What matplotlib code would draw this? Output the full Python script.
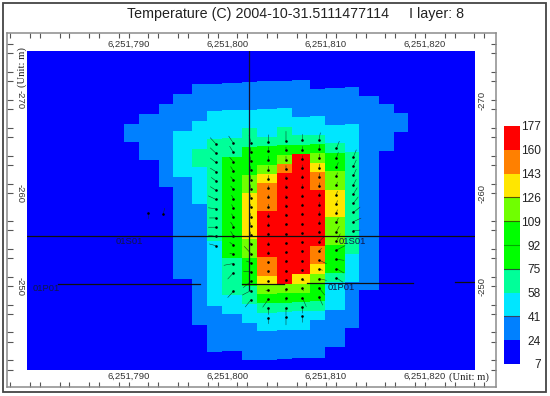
import numpy as np
import matplotlib
matplotlib.use("Agg")
import matplotlib.pyplot as plt
from matplotlib.colors import ListedColormap, BoundaryNorm
from matplotlib.patches import Rectangle
from matplotlib.ticker import FuncFormatter

plt.rcParams['font.family'] = ['Liberation Sans', 'DejaVu Sans']
plt.rcParams['axes.unicode_minus'] = False

W, H = 550, 396
TITLE = "Temperature (C) 2004-10-31.5111477114     I layer: 8"
X0 = 6251800
LEVELS = [7, 24, 41, 58, 75, 92, 109, 126, 143, 160, 177]
COLORS = ['#0000ff', '#0080ff', '#00e6ff', '#00ff99', '#00ff00', '#00ff00',
          '#70ff00', '#ffe600', '#ff8000', '#ff0000']
CLASS_TEMP = [15, 32, 49, 66, 83, 100, 117, 134, 151, 168]

# column edges, metres east of X0
col_edges = [-10.48, -8.96, -6.93, -5.51, -3.59, -2.07, -0.55, 1.48, 3.0, 5.03,
             6.55, 8.37, 9.89, 11.92, 13.33, 15.35, 16.88, 18.3]
row_edges = [-272.11 + 0.9947 * k for k in range(31)]
grid_tilt = -0.0425

# temperature class per cell, one string per column, top row first
COLUMNS = [
    "0"*4 + "1"*2 + "0"*24,
    "0"*3 + "1"*5 + "0"*22,
    "0"*2 + "1"*9 + "0"*19,
    "0"*1 + "1"*4 + "2"*5 + "1"*11 + "0"*9,
    "1"*4 + "2"*3 + "3"*2 + "2"*4 + "1"*13 + "0"*4,
    "1"*3 + "2"*3 + "3"*11 + "2"*7 + "1"*5 + "0"*1,
    "1"*3 + "2"*3 + "3"*2 + "4"*11 + "3"*4 + "2"*2 + "1"*4 + "0"*1,
    "1"*3 + "2"*2 + "3"*2 + "4"*3 + "6"*2 + "7"*5 + "6"*2 + "4"*3 + "3"*2 + "2"*2 + "1"*4,
    "1"*3 + "2"*3 + "3"*1 + "4"*2 + "6"*1 + "7"*1 + "8"*3 + "9"*5 + "8"*2 + "7"*1 + "6"*1 + "4"*1 + "3"*1 + "2"*2 + "1"*3,
    "1"*3 + "2"*2 + "3"*2 + "4"*1 + "6"*1 + "8"*1 + "9"*12 + "6"*1 + "4"*1 + "3"*1 + "2"*2 + "1"*3,
    "1"*4 + "2"*2 + "3"*1 + "4"*1 + "9"*13 + "7"*1 + "6"*1 + "4"*1 + "3"*1 + "2"*2 + "1"*3,
    "0"*1 + "1"*3 + "2"*2 + "3"*1 + "4"*1 + "6"*1 + "7"*1 + "8"*2 + "9"*6 + "8"*2 + "7"*1 + "6"*1 + "4"*2 + "3"*1 + "2"*1 + "1"*4,
    "0"*1 + "1"*4 + "2"*2 + "3"*1 + "4"*2 + "6"*2 + "7"*3 + "6"*3 + "4"*3 + "3"*1 + "2"*3 + "1"*4 + "0"*1,
    "0"*1 + "1"*4 + "2"*3 + "3"*11 + "2"*3 + "1"*5 + "0"*3,
    "0"*2 + "1"*21 + "0"*7,
    "0"*3 + "1"*5 + "0"*22,
    "0"*4 + "1"*2 + "0"*24,
]

# flow vectors (u, v) in metres, v positive downward: {column: (first row, vectors)}
FLOW = {
    5: (6, [(-.6,-.7),(-.6,-.6),(-.6,-.5),(-.6,-.4),(-.5,-.4),(-.6,-.4),(-.8,-.4),
            (-.8,-.1),(-.7,0),(-.8,0),(-.8,-.15),(-.7,-.2)]),
    6: (6, [(-.5,-.8),(-.4,-.7),(-.4,-.5),(-.3,-.5),(-.3,-.4),(-.3,-.4),(-.2,-.4),
            (-.2,-.4),(-.2,-.4),(-.3,-.5),(-.3,-.5),(-.4,-.3),(-.4,-.1),(-1,.2),
            (-.6,.7),(0,0),(-.6,.7)]),
    7: (6, [(-.2,-.8),(-.1,-.5),(-.1,-.5),(-.1,-.5),(-.1,-.5),(-.1,-.5),(-.1,-.4),
            (-.1,-.4),(-.1,-.4),(-.1,-.4),(-.1,-.4),(-.2,-.4),(-.7,-.8),(-.5,-.2),
            (-.8,-.1),(-.8,.7),(-.9,.5),(-.6,.8)]),
    8: (6, [(0,-.8),(0,-.5),(0,-.5),(0,-.4),(0,-.4),(0,-.3),(0,-.3),(0,-.3),(0,-.3),
            (0,-.3),(0,-.2),(0,-.2),(0,-.2),(0,.2),(0,.2),(0,.2),(-.3,.1),(-.6,.9),
            (0,.7),(0,.7)]),
    9: (6, [(0,-1.1),(0,-.4),(0,-.4),(0,-.4),(0,-.3),(0,-.3),(0,-.2),(0,-.2),(0,-.2),
            (0,.2),(0,.2),(0,.2),(0,.2),(0,.2),(0,.2),(0,.3),(0,.3),(0,.3),(0,.9),(0,.9)]),
    10: (6, [(0,-.7),(0,-.4),(0,-.4),(0,-.4),(0,-.3),(0,-.3),(0,-.2),(0,-.2),(0,-.2),
             (0,.2),(0,.2),(0,.2),(0,.2),(0,.2),(0,.2),(.2,.2),(.1,.3),(.4,1),(0,.7),(0,.7)]),
    11: (6, [(.15,-.8),(.1,-.5),(.1,-.5),(.1,-.4),(.1,-.4),(.1,-.4),(.1,-.3),(.1,-.3),
             (.1,-.3),(.1,-.3),(.1,-.2),(.6,-.6),(.3,-.3),(.8,.4),(.4,.1),(.8,.2),(.6,.8),(.4,.9)]),
    12: (7, [(.3,-.8),(.2,-.6),(.2,-.5),(.1,-.4),(.1,-.4),(.1,-.4),(.1,-.4),(.1,-.4),
             (.2,-.5),(.3,-.6),(.4,-.8),(.9,-.5),(.8,.1),(.8,.5),(.7,.5)]),
    13: (8, [(.3,-.8),(.3,-.7),(.3,-.7),(.3,-.6),(.4,-.7),(.5,-.7),(.7,-.6),(.8,-.4),(.7,-.1)]),
}
# two isolated vectors west of the plume
extra_x = [-8.0, -6.5]
extra_y = [-257.8, -257.7]
extra_u = [0.0, 0.15]
extra_v = [0.6, -0.7]

WELL_V_X, WELL_V_TOP, WELL_V_BOTTOM = 2.24, -275.27, -249.57
WELL_H1_Y = -255.38
WELL_H2 = [(-17.16, -2.78, -250.22), (1.48, 5.73, -250.25),
           (8.06, 18.8, -250.35), (23.06, 25.09, -250.45)]
WELL_LABELS = [("01S01", -9.9, -254.84), ("01S01", 12.7, -254.84),
               ("01P01", -18.3, -249.68), ("01P01", 11.56, -249.8)]

XTICK_LABELS = [-10, 0, 10, 20]
YTICK_LABELS = [-270, -260, -250]
X_FRAME_TICKS = [n for n in range(-22, 27) if n % 3 in (1, 2)]
X_FRAME_TALL = [-20, 10]
Y_FRAME_TICKS = [-16,-15,-13,-12,-10,-9,-7,-6,-4,-3,-1,0,3,4,6,7,9,10,12,13,15,16,18,19]


def box(l, t, r, b):
    return [l / W, 1 - b / H, (r - l) / W, (b - t) / H]


fig = plt.figure(figsize=(W / 100, H / 100), dpi=100, facecolor='white')

# outer tick frame
fr = fig.add_axes(box(7, 33, 496, 387), zorder=1)
fr.set_xlim(-22.33, 27.2)
fr.set_ylim(-239.14, -277.2)
for s in fr.spines.values():
    s.set_color('#8c8c8c')
    s.set_linewidth(1.1)
fr.set_xticks(X_FRAME_TICKS)
fr.set_yticks([-260 + v for v in Y_FRAME_TICKS])
fr.tick_params(which='major', direction='in', length=3.4, width=0.8, color='#555555',
               top=True, right=True, labelbottom=False, labelleft=False)
for tick in fr.xaxis.get_major_ticks():
    if tick.get_loc() in X_FRAME_TALL:
        tick.tick1line.set_markersize(5.5)
        tick.tick2line.set_markersize(5.5)
for tick in fr.yaxis.get_major_ticks():
    tall = tick.get_loc() in (-270, -260, -250)
    tick.tick1line.set_markersize(6.5 if tall else 4.3)
    tick.tick2line.set_markersize(5.8 if tall else 3.6)

# main map
ax = fig.add_axes(box(27, 51, 475, 370), zorder=2)
ax.set_facecolor(COLORS[0])
ax.set_xlim(-20.3, 25.09)
ax.set_ylim(-240.97, -275.27)
cmap = ListedColormap(COLORS)
norm = BoundaryNorm(LEVELS, cmap.N)
Xe = np.array(col_edges)
Ye = np.array(row_edges)
XX, YY = np.meshgrid(Xe, Ye)
YY = YY + grid_tilt * (XX - 7.35)
temps = np.array([[CLASS_TEMP[int(ch)] for ch in col] for col in COLUMNS]).T
ax.pcolormesh(XX, YY, temps, cmap=cmap, norm=norm, shading='flat', edgecolors='none',
              antialiased=False, rasterized=True)

xc, yc, uu, vv = list(extra_x), list(extra_y), list(extra_u), list(extra_v)
cx = (Xe[:-1] + Xe[1:]) / 2
cy = (Ye[:-1] + Ye[1:]) / 2
for col, (first, vectors) in FLOW.items():
    for k, (u, v) in enumerate(vectors):
        if u == 0 and v == 0:
            continue
        xc.append(cx[col] + 0.15)
        yc.append(cy[first + k] + grid_tilt * (cx[col] - 7.35))
        uu.append(u)
        vv.append(v)
ax.quiver(xc, yc, uu, vv, angles='xy', scale_units='xy', scale=1, width=0.0011,
          headwidth=1, headlength=1, headaxislength=1, color='#103020', zorder=3)
ax.scatter(xc, yc, s=3.5, color='black', linewidths=0, zorder=4)

ax.plot([WELL_V_X, WELL_V_X], [WELL_V_TOP, WELL_V_BOTTOM], color='#101030', lw=0.9, zorder=5)
ax.plot(ax.get_xlim(), [WELL_H1_Y, WELL_H1_Y], color='#101010', lw=0.9, zorder=5)
for x1, x2, y in WELL_H2:
    ax.plot([x1, x2], [y, y], color='#101010', lw=0.9, zorder=5)
for name, x, y in WELL_LABELS:
    ax.text(x, y, name, fontsize=6.8, color='#10184a', ha='center', va='center', zorder=6)

ax.set_xticks(XTICK_LABELS)
ax.set_yticks(YTICK_LABELS)
ax.xaxis.set_major_formatter(FuncFormatter(lambda v, p: f"{int(X0 + v):,}"))
ax.tick_params(length=0, top=True, labeltop=True, right=True, labelright=True,
               labelsize=6.8, labelcolor='#333333', pad=1.5)
for t in ax.yaxis.get_major_ticks():
    t.label1.set_rotation(270)
    t.label1.set_va('center')
    t.label2.set_rotation(90)
    t.label2.set_va('center')
for s in ax.spines.values():
    s.set_visible(False)

# colour bar
cax = fig.add_axes(box(504, 126, 520, 364), zorder=2)
cb = fig.colorbar(plt.cm.ScalarMappable(norm=norm, cmap=cmap), cax=cax, ticks=LEVELS,
                  spacing='uniform')
cb.outline.set_visible(False)
cax.tick_params(length=0, pad=15.2, labelsize=8.6, labelcolor='#222222')
for t in cax.get_yticklabels():
    t.set_ha('right')
for lev, c in [(7, '#222222'), (41, '#334466'), (75, '#225533'), (92, '#00aa00'),
               (109, '#336600'), (126, '#555500')]:
    cax.axhline(lev, color=c, lw=0.8, zorder=5)

fig.text(295.5 / W, 1 - 14 / H, TITLE, fontsize=10.3, color='#222222', ha='center', va='center')
fig.text(22 / W, 1 - 67 / H, "(Unit: m)", rotation=90, fontsize=7.7, family='Liberation Serif',
         color='#222222', ha='center', va='center', zorder=6)
fig.text(469 / W, 1 - 377 / H, "(Unit: m)", fontsize=7.7, family='Liberation Serif',
         color='#222222', ha='center', va='center', zorder=6)

fig.add_artist(Rectangle((3 / W, 1 - 392 / H), 543 / W, 389 / H, transform=fig.transFigure,
                         fill=False, edgecolor='#444444', lw=1.3))

fig.savefig('out.png', dpi=100)
